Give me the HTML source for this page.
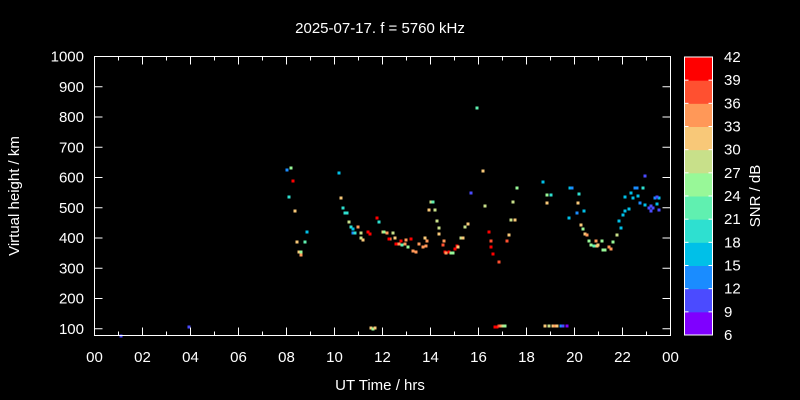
<!DOCTYPE html>
<html><head><meta charset="utf-8"><style>
html,body{margin:0;padding:0;background:#000;overflow:hidden;width:800px;height:400px;}
svg{display:block;}
svg text{font-family:"Liberation Sans",sans-serif;fill:#fff;}
</style></head><body>
<svg width="800" height="400" xmlns="http://www.w3.org/2000/svg">
<rect width="800" height="400" fill="#000"/>
<text x="380" y="33" font-size="15" text-anchor="middle">2025-07-17. f = 5760 kHz</text>
<text x="380" y="390" font-size="15" text-anchor="middle">UT Time / hrs</text>
<text x="19" y="196" font-size="15" text-anchor="middle" transform="rotate(-90 19 196)">Virtual height / km</text>
<text x="760" y="196" font-size="15" text-anchor="middle" transform="rotate(-90 760 196)">SNR / dB</text>
<g id="pts"></g>
<rect x="94.5" y="56.5" width="576" height="279" fill="none" stroke="#fff" stroke-width="1"/>
<g id="ax" stroke="#fff" stroke-width="1"></g>
<g id="lab" font-size="15"></g>
<g id="cb"></g>
</svg>
<script>
const ns="http://www.w3.org/2000/svg";
function el(t,a,p){const e=document.createElementNS(ns,t);for(const k in a)e.setAttribute(k,a[k]);document.getElementById(p).appendChild(e);return e;}
for(let h=0;h<=24;h++){const x=94.5+h*24;const L=h%2==0?8:4;
el('line',{x1:x,y1:335.5,x2:x,y2:335.5-L},'ax');el('line',{x1:x,y1:56.5,x2:x,y2:56.5+L},'ax');
if(h%2==0){const t=el('text',{x:x,y:362,'text-anchor':'middle'},'lab');t.textContent=String(h%24).padStart(2,'0');}}
for(let v=100;v<=1000;v+=100){const y=56.5+(1000-v)*0.3025;
el('line',{x1:94.5,y1:y,x2:102.5,y2:y},'ax');el('line',{x1:670.5,y1:y,x2:662.5,y2:y},'ax');
const t=el('text',{x:84,y:y+5,'text-anchor':'end'},'lab');t.textContent=v;}
const cols=['#7f00ff','#4b4bff','#1a8cff','#00c0e8','#2ee0d0','#60f0b0','#98f898','#c8e08a','#f8c878','#ff9858','#ff5030','#ff0000'];
const segH=278/12;
for(let i=0;i<12;i++){const y=335-(i+1)*segH;el('rect',{x:684,y:y,width:28,height:segH+0.5,fill:cols[i]},'cb');}
el('rect',{x:684.5,y:57,width:28,height:278,fill:'none',stroke:'#fff'},'cb');
for(let i=0;i<=12;i++){const y=335-i*segH;
if(i>0&&i<12){el('line',{x1:684.5,y1:y,x2:688.5,y2:y,stroke:'#fff'},'cb');el('line',{x1:712.5,y1:y,x2:708.5,y2:y,stroke:'#fff'},'cb');}
const t=el('text',{x:724,y:y+5,'font-size':15},'cb');t.textContent=6+3*i;}
const P=[[121,336,1],[189,327,1],
[287,170,2],[291,168,6],[293,181,11],[289,197,4],[295,211,8],[307,232,3],[297,242,8],[305,242,5],[299,252,8],[301,252,6],[301,255,9],
[339,173,3],[341,198,8],[343,208,4],[345,213,4],[347,213,4],[349,222,7],[351,227,4],[358,227,9],[353,229,3],[353,233,2],[355,233,4],[361,233,7],[368,232,11],[370,234,11],[361,238,7],[363,240,8],
[371,328,8],[373,329,6],[375,328,8],
[377,218,11],[379,222,4],[383,232,8],[384,232,6],[387,233,9],[393,233,7],[390,239,9],[389,239,11],[395,238,8],[399,244,9],[396,244,11],[401,241,11],[405,244,9],[402,245,5],[408,247,6],[406,240,9],[411,239,11],[413,251,9],[416,252,9],[419,244,9],[423,247,9],[425,238,8],[427,241,9],[426,246,9],[439,234,8],[444,241,9],
[431,202,7],[433,202,5],[429,210,8],[435,210,7],[437,221,7],[439,228,7],[443,245,10],[445,252,11],[446,253,9],[449,252,11],[451,253,6],[453,253,6],[455,249,11],[457,246,11],[458,247,8],[461,238,7],[463,238,8],[465,227,7],[468,224,8],
[471,193,1],[477,108,5],[483,171,8],[485,206,7],[489,232,11],[491,241,10],[491,247,11],[493,254,11],[499,262,10],[507,241,10],[509,235,8],[511,220,7],[513,202,7],[515,220,8],[517,188,6],
[495,327,11],[497,327,11],[499,326,10],[501,326,9],[503,326,7],[505,326,6],
[543,182,3],[547,195,6],[547,203,8],[551,195,4],
[545,326,8],[549,326,7],[553,326,8],[555,326,9],[557,326,8],[561,326,2],[563,326,1],[567,326,0],
[570,188,3],[572,188,2],[579,194,4],[578,203,8],[584,211,3],[577,213,2],[569,218,3],[581,225,8],[583,229,6],[585,234,8],[587,235,9],[589,241,6],[591,245,6],[594,246,5],[597,246,8],[596,241,9],[598,245,8],[602,241,6],[605,250,6],[603,250,6],[609,247,9],[611,249,9],[613,242,6],[617,235,7],[619,221,3],[623,215,3],[625,211,3],[621,228,3],[625,197,3],[631,193,3],[629,209,3],[633,198,3],[635,188,2],[637,188,2],[643,188,4],[638,196,3],[645,176,1],[640,203,2],[645,205,3],[649,208,1],[651,206,1],[653,208,1],[655,198,2],[657,204,3],[659,198,3],[651,211,1],[659,210,1],[657,197,1]];
for(const p of P){el('rect',{x:p[0]-1.5,y:p[1]-1.5,width:3,height:3,fill:cols[p[2]]},'pts');}
</script>
</body></html>
